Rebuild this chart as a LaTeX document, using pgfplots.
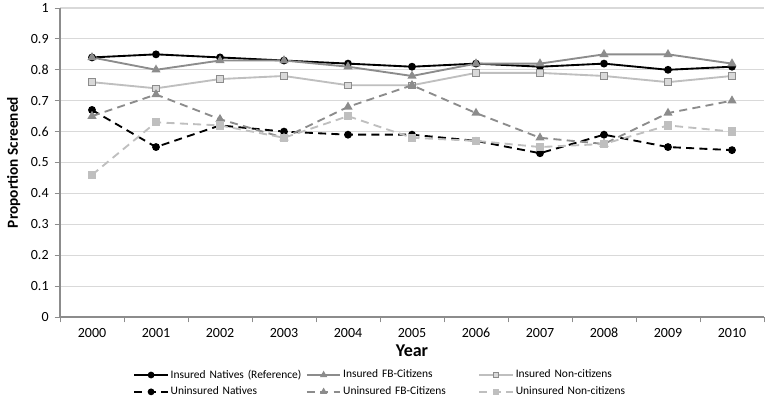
\documentclass[border=0pt]{standalone}
\usepackage{pgfplots}
\pgfplotsset{compat=1.18}
\usepackage{fontspec}
\setmainfont{Carlito}
\definecolor{gA}{HTML}{8C8C8C}
\definecolor{gB}{HTML}{BFBFBF}
\definecolor{gridc}{HTML}{D9D9D9}
\begin{document}
\begin{tikzpicture}[x=1pt,y=1pt]
\path[use as bounding box] (-45pt,-63.75pt) rectangle (528.75pt,237.75pt);
\begin{axis}[
  at={(0,0)}, anchor=south west,
  scale only axis, width=528pt, height=231.75pt,
  xmin=-0.5, xmax=10.5, ymin=0, ymax=1,
  xtick={0,...,10},
  xticklabels={2000,2001,2002,2003,2004,2005,2006,2007,2008,2009,2010},
  minor xtick={-0.5,0.5,...,10.5},
  major x tick style={draw=none},
  minor tick length=4pt,
  ytick={0,0.1,...,1.0},
  major tick length=4pt,
  tick align=outside,
  tick style={gA, line width=0.6pt},
  axis x line*=bottom, axis y line*=left,
  axis line style={gA, line width=0.8pt, -},
  ymajorgrids, grid style={gridc, line width=0.8pt},
  /pgf/number format/assume math mode=true,
  ticklabel style={font=\fontsize{10.5}{12}\selectfont},
  xticklabel style={yshift=-1pt},
  yticklabel style={xshift=-1pt},
  xlabel={\textbf{Year}},
  xlabel style={font=\fontsize{13.5}{15}\selectfont, yshift=2pt},
  ylabel={\textbf{Proportion Screened}},
  ylabel style={font=\fontsize{11.5}{13}\selectfont, yshift=1pt},
  legend columns=3,
  legend style={at={(axis description cs:0.472,-0.155)}, anchor=north, draw=none,
    font=\fontsize{8.6}{10}\selectfont, row sep=2pt,
    nodes={text width=100pt, align=left, inner sep=1.5pt}},
  legend image code/.code={\draw[mark repeat=2,mark phase=2,mark size=1.8pt] plot coordinates {(0pt,0pt) (12.5pt,0pt) (25pt,0pt)};},
  every axis plot/.append style={line width=1.4pt},
]
\addplot[black, mark=*, mark size=2.2pt] coordinates {(0,0.84)(1,0.85)(2,0.84)(3,0.83)(4,0.82)(5,0.81)(6,0.82)(7,0.81)(8,0.82)(9,0.80)(10,0.81)};
\addlegendentry{\mbox{Insured Natives (Reference)}}
\addplot[gA, mark=triangle*, mark size=2.6pt, mark options={fill=gA}] coordinates {(0,0.84)(1,0.80)(2,0.83)(3,0.83)(4,0.81)(5,0.78)(6,0.82)(7,0.82)(8,0.85)(9,0.85)(10,0.82)};
\addlegendentry{Insured FB-Citizens}
\addplot[gB, mark=square*, mark size=2.4pt, mark options={fill=gridc, draw=gA, line width=0.7pt}] coordinates {(0,0.76)(1,0.74)(2,0.77)(3,0.78)(4,0.75)(5,0.75)(6,0.79)(7,0.79)(8,0.78)(9,0.76)(10,0.78)};
\addlegendentry{Insured Non-citizens}
\addplot[black, dash pattern=on 6pt off 4pt, mark=*, mark size=2.2pt, mark options={solid}] coordinates {(0,0.67)(1,0.55)(2,0.62)(3,0.60)(4,0.59)(5,0.59)(6,0.57)(7,0.53)(8,0.59)(9,0.55)(10,0.54)};
\addlegendentry{Uninsured Natives}
\addplot[gA, dash pattern=on 6pt off 4pt, mark=triangle*, mark size=2.6pt, mark options={solid, fill=gA}] coordinates {(0,0.65)(1,0.72)(2,0.64)(3,0.58)(4,0.68)(5,0.75)(6,0.66)(7,0.58)(8,0.56)(9,0.66)(10,0.70)};
\addlegendentry{Uninsured FB-Citizens}
\addplot[gB, dash pattern=on 6pt off 4pt, mark=square*, mark size=2.4pt, mark options={solid, fill=gB, draw=gB}] coordinates {(0,0.46)(1,0.63)(2,0.62)(3,0.58)(4,0.65)(5,0.58)(6,0.57)(7,0.55)(8,0.56)(9,0.62)(10,0.60)};
\addlegendentry{Uninsured Non-citizens}
\end{axis}
\end{tikzpicture}
\end{document}
